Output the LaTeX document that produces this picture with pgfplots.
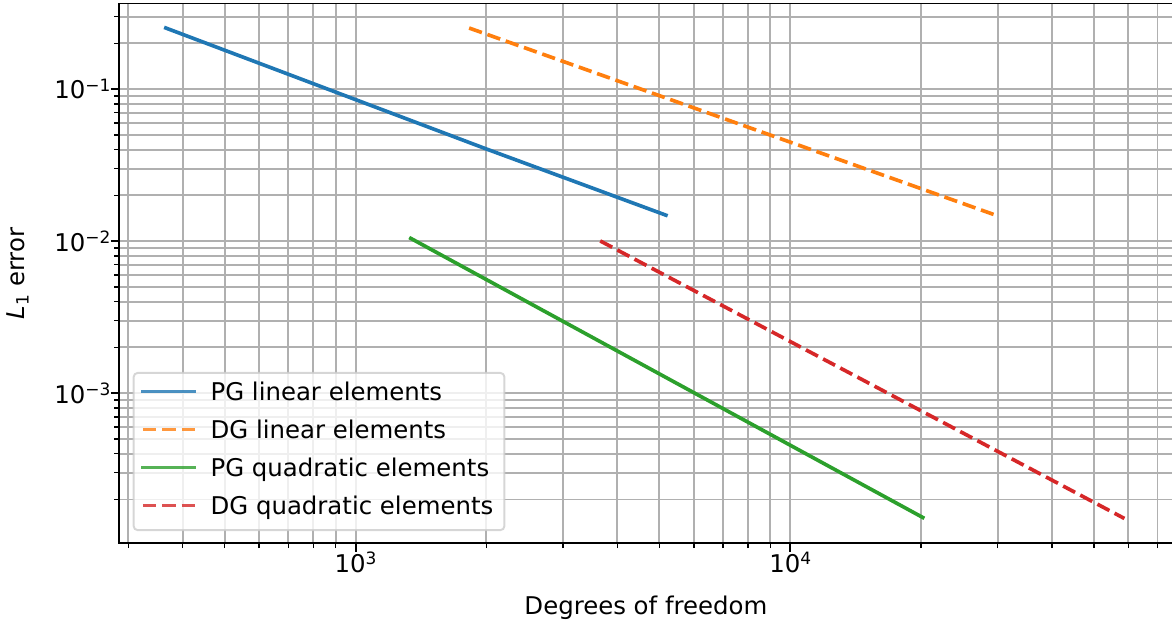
\documentclass[border=0pt]{standalone}
\usepackage{fontspec}
\setmainfont{DejaVu Sans}
\usepackage{pgfplots}
\pgfplotsset{compat=1.18}

\definecolor{cblue}{HTML}{1F77B4}
\definecolor{corange}{HTML}{FF7F0E}
\definecolor{cgreen}{HTML}{2CA02C}
\definecolor{cred}{HTML}{D62728}
\definecolor{gridgray}{HTML}{B0B0B0}
\definecolor{framegray}{HTML}{CCCCCC}

% superscript / subscript in the style of the tick labels
\newcommand\sups[1]{\raisebox{3.8pt}{\fontsize{8.5}{10}\selectfont #1}}
\newcommand\subs[1]{\raisebox{-1.9pt}{\fontsize{8.5}{10}\selectfont #1}}

\begin{document}
\begin{tikzpicture}[font=\fontsize{12.2}{14.6}\selectfont]
\begin{loglogaxis}[
  at={(0pt,0pt)}, anchor=south west,
  scale only axis,
  width=526.6pt, height=269.9pt,
  xmin=286, xmax=75800,
  ymin=1.03e-4, ymax=0.366,
  xtick={1000,10000},
  xticklabels={10\sups{3},10\sups{4}},
  minor xtick={300,400,500,600,700,800,900,2000,3000,4000,5000,6000,7000,8000,9000,20000,30000,40000,50000,60000,70000},
  ytick={0.001,0.01,0.1},
  yticklabels={10\sups{−3},10\sups{−2},10\sups{−1}},
  minor ytick={2e-4,3e-4,4e-4,5e-4,6e-4,7e-4,8e-4,9e-4,2e-3,3e-3,4e-3,5e-3,6e-3,7e-3,8e-3,9e-3,0.02,0.03,0.04,0.05,0.06,0.07,0.08,0.09,0.2,0.3},
  tick pos=left,
  tick align=outside,
  major tick length=4.27pt,
  minor tick length=2.44pt,
  major tick style={black, line width=0.98pt},
  minor tick style={black, line width=0.73pt},
  axis line style={black, line width=0.98pt},
  grid=both,
  major grid style={gridgray, line width=0.98pt},
  minor grid style={gridgray, line width=0.98pt},
  xticklabel style={anchor=north, inner sep=0pt},
  yticklabel style={anchor=east, inner sep=0pt},
  xlabel={Degrees of freedom},
  ylabel={\textit{L}\subs{1} error},
  x label style={at={([yshift=-35.6pt]axis description cs:0.5,0)}, anchor=base},
  y label style={at={([xshift=-47.2pt]axis description cs:0,0.5)}, anchor=base, rotate=0},
  legend cell align=left,
  legend style={
    at={(0.0127,0.0226)}, anchor=south west,
    draw=framegray, line width=0.98pt,
    fill=white, fill opacity=0.8, draw opacity=0.8, text opacity=1,
    rounded corners=2pt,
    inner xsep=3.65pt, inner ysep=4.8pt,
    row sep=7.0pt,
    nodes={inner xsep=1.9pt, inner ysep=0pt, text height=9pt, text depth=3pt},
    font=\fontsize{12.2}{14.6}\selectfont,
    /tikz/every odd column/.append style={column sep=5.2pt},
  },
  legend image code/.code={\draw[#1] (0pt,1.45pt) -- (25.9pt,1.45pt);},
]
% PG, linear elements
\addplot[cblue, line width=1.83pt, line cap=rect] coordinates {
  (366,0.2524) (2000,0.0404) (5176,0.01483)
};
\addlegendentry{PG linear elements}
% DG, linear elements
\addplot[corange, line width=1.83pt, dash pattern=on 6.77pt off 2.93pt] coordinates {
  (1825,0.2524) (29370,0.0150)
};
\addlegendentry{DG linear elements}
% PG, quadratic elements
\addplot[cgreen, line width=1.83pt, line cap=rect] coordinates {
  (1340,0.01043) (20180,1.524e-4)
};
\addlegendentry{PG quadratic elements}
% DG, quadratic elements
\addplot[cred, line width=1.83pt, dash pattern=on 6.77pt off 2.93pt] coordinates {
  (3655,0.01004) (58750,1.50e-4)
};
\addlegendentry{DG quadratic elements}
\end{loglogaxis}
\pgfresetboundingbox
\path (-59.65pt,-38.85pt) rectangle (526.35pt,271.65pt);
\end{tikzpicture}
\end{document}
